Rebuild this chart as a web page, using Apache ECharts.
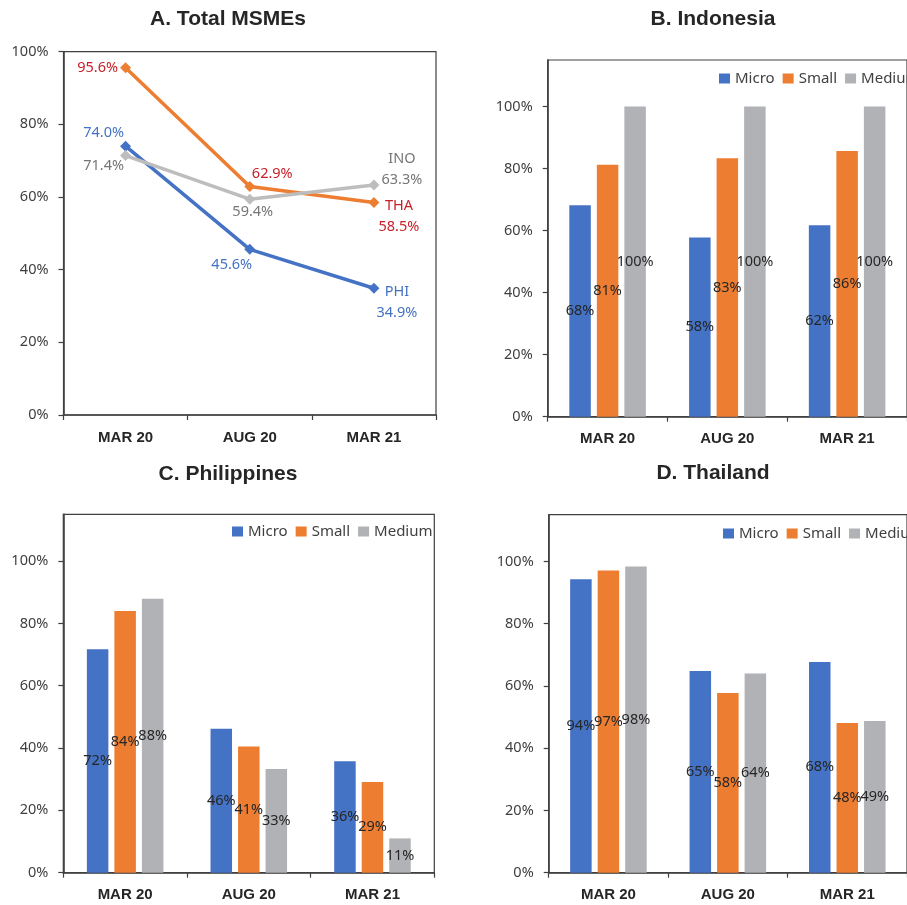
<!DOCTYPE html>
<html>
<head>
<meta charset="utf-8">
<title>MSMEs operating, by survey round</title>
<script src="https://cdn.jsdelivr.net/npm/echarts@6/dist/echarts.min.js"></script>
<style>
  html, body { margin: 0; padding: 0; background: #ffffff; overflow: hidden; }
  #chart { width: 907px; height: 905px; }
</style>
</head>
<body>
<div id="chart"></div>
<script>
// Survey rounds (category axis)
const periods = ['MAR 20', 'AUG 20', 'MAR 21'];

// Panel A: share of all MSMEs, by country
const totalPHI = [0.740, 0.456, 0.349];
const totalTHA = [0.956, 0.629, 0.585];
const totalINO = [0.714, 0.594, 0.633];

// Panel B: Indonesia by firm size
const indoMicro  = [0.682, 0.578, 0.617];
const indoSmall  = [0.812, 0.833, 0.857];
const indoMedium = [1.000, 1.000, 1.000];

// Panel C: Philippines by firm size
const phiMicro  = [0.717, 0.462, 0.358];
const phiSmall  = [0.840, 0.405, 0.291];
const phiMedium = [0.879, 0.333, 0.110];

// Panel D: Thailand by firm size
const thaMicro  = [0.943, 0.648, 0.677];
const thaSmall  = [0.971, 0.577, 0.481];
const thaMedium = [0.984, 0.640, 0.487];

// Value-axis ticks shown on every panel
const yTicks = [0, 0.2, 0.4, 0.6, 0.8, 1.0];
const sizeNames = ['Micro', 'Small', 'Medium'];
const panelTitles = ['A. Total MSMEs', 'B. Indonesia', 'C. Philippines', 'D. Thailand'];

const BLUE = '#4472C4', ORANGE = '#ED7D31', GRAY = '#B1B2B6', LINE_GRAY = '#BDBDBD';
const AXIS = '#404040';
const BODY_FONT = '"Noto Sans", "Open Sans", sans-serif';
const BOLD_FONT = '"Liberation Sans", Arial, sans-serif';

const pct0 = v => Math.round(v * 100) + '%';
const pct1 = v => (v * 100).toFixed(1) + '%';

// plot rectangles of the four panels
const grids = [
  { left: 63.5,  top: 51.7,  width: 372.5, height: 363.3 },
  { left: 547.7, top: 60,    width: 370,   height: 356.7 },
  { left: 63.3,  top: 514.3, width: 371,   height: 358.4 },
  { left: 548.7, top: 514.7, width: 370.5, height: 358 }
];
const yMax = [1.0, 1.15, 1.15, 1.15];

const option = {
  animation: false,
  backgroundColor: '#ffffff',
  title: panelTitles.map((t, i) => ({
    text: t,
    left: [228, 713, 228, 713][i],
    top: [9, 9, 464, 463][i],
    padding: 0,
    textAlign: 'center',
    textStyle: { fontFamily: BOLD_FONT, fontWeight: 'bold', fontSize: 21, color: '#262626' }
  })),
  legend: [
    { left: 719, top: 71 },
    { left: 232, top: 524 },
    { left: 723, top: 526 }
  ].map(p => ({
    data: sizeNames,
    orient: 'horizontal',
    left: p.left, top: p.top, width: 320, padding: 0,
    icon: 'rect', itemWidth: 11, itemHeight: 10, itemGap: 8,
    selectedMode: false,
    textStyle: { fontFamily: BODY_FONT, fontSize: 15, color: '#404040' }
  })),
  grid: grids.map(g => Object.assign({
    show: true, borderColor: AXIS, borderWidth: 1.2, backgroundColor: 'transparent'
  }, g)),
  xAxis: grids.map((g, i) => ({
    type: 'category',
    gridIndex: i,
    data: periods,
    boundaryGap: true,
    axisLine: { show: true, lineStyle: { color: AXIS, width: 1.6 } },
    axisTick: { show: true, interval: 0, length: 5, lineStyle: { color: AXIS, width: 1.2 } },
    axisLabel: { margin: 15, fontFamily: BOLD_FONT, fontWeight: 'bold', fontSize: 15, color: '#262626' },
    splitLine: { show: false }
  })),
  yAxis: grids.map((g, i) => ({
    type: 'value',
    gridIndex: i,
    min: 0,
    max: yMax[i],
    interval: 0.2,
    axisLine: { show: true, lineStyle: { color: AXIS, width: 1.6 } },
    axisTick: { show: true, length: 5, customValues: yTicks, lineStyle: { color: AXIS, width: 1.2 } },
    axisLabel: {
      customValues: yTicks,
      margin: 15,
      fontFamily: BODY_FONT, fontSize: 14.5, color: '#404040',
      formatter: v => pct0(v)
    },
    splitLine: { show: false }
  })),
  series: []
};

// Panel A lines with hand-placed value labels
function lineSeries(name, values, lineColor, labelColor, offsets, endTag) {
  return {
    type: 'line',
    name: name,
    xAxisIndex: 0, yAxisIndex: 0,
    data: values.map((v, k) => ({
      value: v,
      label: {
        offset: offsets[k],
        formatter: k === values.length - 1 ? endTag + '\n' + pct1(v) : pct1(v)
      }
    })),
    symbol: 'diamond',
    symbolSize: 11,
    lineStyle: { color: lineColor, width: 3.5 },
    itemStyle: { color: lineColor },
    label: {
      show: true,
      position: 'inside',
      align: 'center',
      verticalAlign: 'middle',
      lineHeight: 21,
      fontFamily: BODY_FONT,
      fontSize: 14.5,
      color: labelColor
    }
  };
}

option.series.push(
  lineSeries('PHI', totalPHI, BLUE, '#4472C4', [[-22, -13], [-18, 16], [23, 14.5]], 'PHI'),
  lineSeries('THA', totalTHA, ORANGE, '#C8202A', [[-28, 0], [22.5, -12.7], [25, 14]], 'THA'),
  lineSeries('INO', totalINO, LINE_GRAY, '#767676', [[-22, 10], [3, 12.4], [28, -16]], 'INO')
);

// Panels B–D: grouped bars by firm size
const barSets = [
  [indoMicro, indoSmall, indoMedium],
  [phiMicro, phiSmall, phiMedium],
  [thaMicro, thaSmall, thaMedium]
];
const barColors = [BLUE, ORANGE, GRAY];
barSets.forEach((set, p) => {
  set.forEach((vals, s) => {
    option.series.push({
      type: 'bar',
      name: sizeNames[s],
      xAxisIndex: p + 1, yAxisIndex: p + 1,
      data: vals,
      barWidth: 21.5,
      barGap: '28%',
      itemStyle: { color: barColors[s] },
      label: {
        show: true,
        position: 'inside',
        fontFamily: BODY_FONT,
        fontSize: 14.5,
        color: '#262626',
        formatter: d => pct0(d.value)
      }
    });
  });
});

const chart = echarts.init(document.getElementById('chart'), null, { renderer: 'canvas' });
chart.setOption(option);
</script>
</body>
</html>
